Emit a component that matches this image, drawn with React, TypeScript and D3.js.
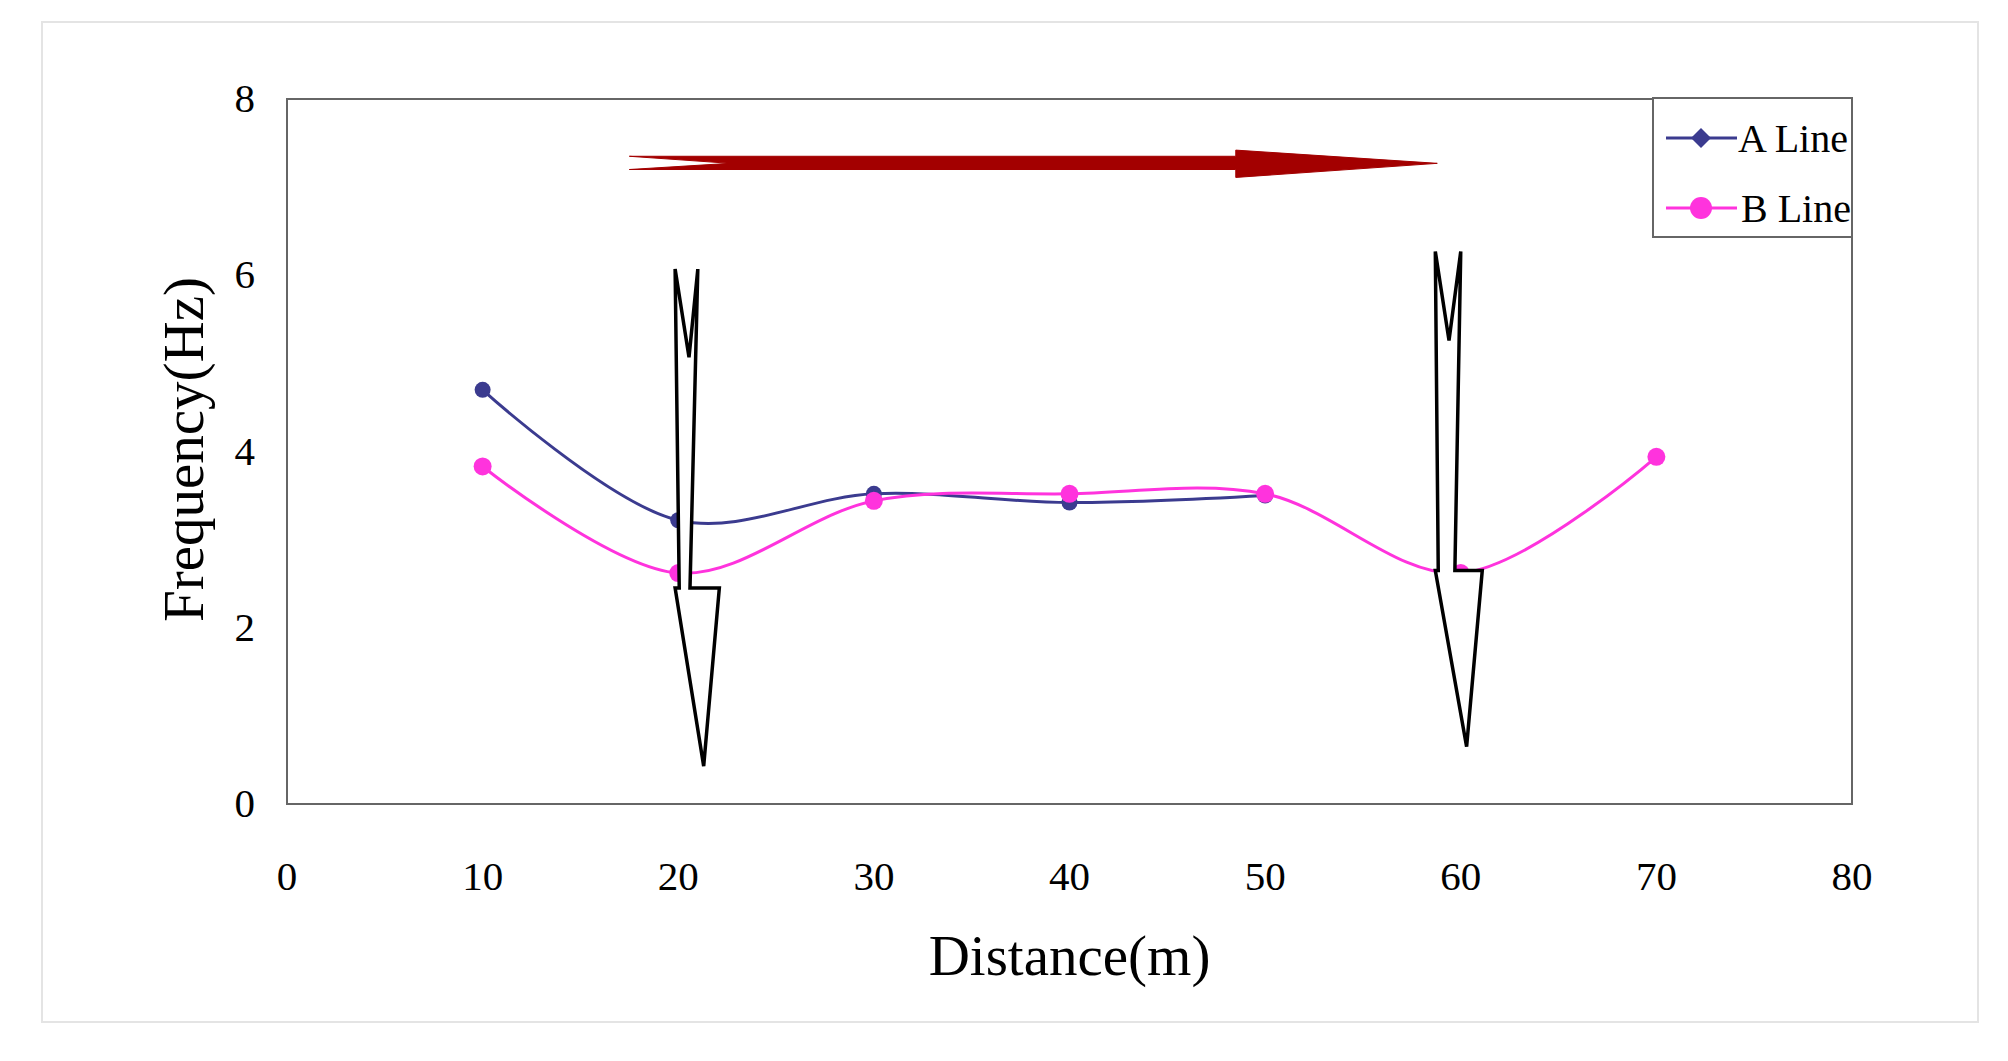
import * as d3 from 'd3';
import React from 'react';

const distA = [10, 20, 30, 40, 50];
const freqA = [4.7, 3.22, 3.52, 3.42, 3.5];
const distB = [10, 20, 30, 40, 50, 60, 70];
const freqB = [3.83, 2.62, 3.44, 3.52, 3.52, 2.62, 3.94];
const xTicks = [0, 10, 20, 30, 40, 50, 60, 70, 80];
const yTicks = [0, 2, 4, 6, 8];

// annotation arrows in data units
const arrow1: [number, number][] = [[19.84, 6.07], [20.55, 5.07], [21.0, 6.07], [20.6, 2.45], [22.1, 2.45], [21.3, 0.43], [19.84, 2.45], [20.05, 2.45]];
const arrow2: [number, number][] = [[58.7, 6.27], [59.4, 5.26], [60.0, 6.27], [59.7, 2.65], [61.1, 2.65], [60.3, 0.65], [58.7, 2.65], [58.85, 2.65]];
const redArrow: [number, number][] = [[17.5, 7.35], [48.5, 7.35], [48.5, 7.42], [58.8, 7.27], [48.5, 7.11], [48.5, 7.2], [17.5, 7.2], [22.65, 7.27]];

const font = '"Liberation Serif", "Times New Roman", serif';

export default function App() {
  const x = d3.scaleLinear().domain([0, 80]).range([287, 1852]);
  const y = d3.scaleLinear().domain([0, 8]).range([804, 99]);
  const line = d3.line<[number, number]>().x(d => x(d[0])).y(d => y(d[1])).curve(d3.curveCatmullRom.alpha(0.5));
  const poly = (pts: [number, number][]) => d3.line<[number, number]>().x(d => x(d[0])).y(d => y(d[1]))(pts) + 'Z';
  const a = distA.map((d, i) => [d, freqA[i]] as [number, number]);
  const b = distB.map((d, i) => [d, freqB[i]] as [number, number]);
  const colA = '#3b3b8f';
  const colB = '#ff33dd';
  const diamond = (cx: number, cy: number, r: number) => `M${cx},${cy - r}L${cx + r},${cy}L${cx},${cy + r}L${cx - r},${cy}Z`;
  return (
    <svg width={2008} height={1061} style={{ position: 'absolute', left: 0, top: 0, background: '#fff' }}>
      <rect x={42} y={22} width={1936} height={1000} fill="#fff" stroke="#e4e4e4" strokeWidth={2} />
      <rect x={287} y={99} width={1565} height={705} fill="#fff" stroke="#666" strokeWidth={2} />
      {xTicks.map(t => (
        <text key={'x' + t} x={x(t)} y={890} fontFamily={font} fontSize={41} textAnchor="middle">{t}</text>
      ))}
      {yTicks.map(t => (
        <text key={'y' + t} x={255} y={y(t) + 13} fontFamily={font} fontSize={41} textAnchor="end">{t}</text>
      ))}
      <text x={x(40)} y={975} fontFamily={font} fontSize={57} textAnchor="middle">Distance(m)</text>
      <text transform={`translate(203,${y(4) - 2}) rotate(-90)`} fontFamily={font} fontSize={57} textAnchor="middle">Frequency(Hz)</text>
      <path d={line(a) || ''} fill="none" stroke={colA} strokeWidth={3} />
      <path d={line(b) || ''} fill="none" stroke={colB} strokeWidth={3} />
      {a.map((d, i) => <circle key={'a' + i} cx={x(d[0])} cy={y(d[1])} r={8} fill={colA} />)}
      {b.map((d, i) => <circle key={'b' + i} cx={x(d[0])} cy={y(d[1])} r={9} fill={colB} />)}
      <path d={poly(redArrow)} fill="#a30000" stroke="#a30000" strokeWidth={1} />
      <path d={poly(arrow1)} fill="#fff" stroke="#000" strokeWidth={3.5} strokeLinejoin="miter" />
      <path d={poly(arrow2)} fill="#fff" stroke="#000" strokeWidth={3.5} strokeLinejoin="miter" />
      <g>
        <rect x={1653} y={98} width={199} height={139} fill="#fff" stroke="#666" strokeWidth={2} />
        <line x1={1666} x2={1737} y1={138} y2={138} stroke={colA} strokeWidth={3} />
        <path d={diamond(1701, 138, 10)} fill={colA} />
        <text x={1738} y={152} fontFamily={font} fontSize={40}>A Line</text>
        <line x1={1666} x2={1737} y1={208} y2={208} stroke={colB} strokeWidth={3} />
        <circle cx={1701} cy={208} r={11} fill={colB} />
        <text x={1741} y={222} fontFamily={font} fontSize={40}>B Line</text>
      </g>
    </svg>
  );
}
